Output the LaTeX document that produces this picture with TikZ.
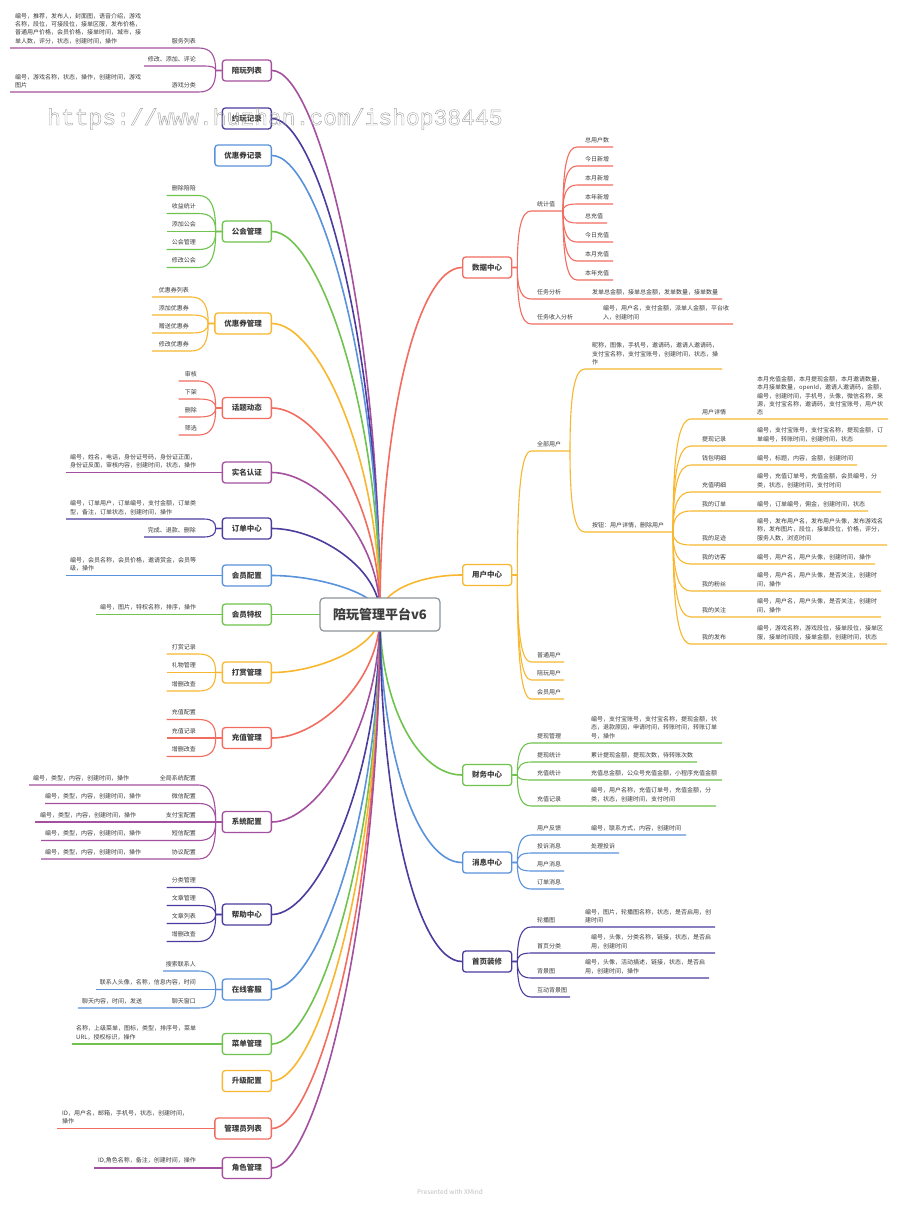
\documentclass[tikz,border=0pt]{standalone}
\usepackage{fontspec}
\setmainfont{Noto Sans CJK SC}
\newfontfamily\wmfont{Liberation Mono}
\usetikzlibrary{calc}
\definecolor{cR}{HTML}{F26D5F}
\definecolor{cY}{HTML}{F8B72E}
\definecolor{cG}{HTML}{70C34E}
\definecolor{cB}{HTML}{5A92DB}
\definecolor{cI}{HTML}{4B3C9E}
\definecolor{cP}{HTML}{A4509F}
\definecolor{txt}{HTML}{3C3C3C}
\definecolor{rootc}{HTML}{8C949B}
\definecolor{wm}{HTML}{A0A0A0}
\pgfdeclarelayer{back}
\pgfdeclarelayer{bg}
\pgfsetlayers{back,bg,main}
\begin{document}
\begin{tikzpicture}[x=1pt,y=-1pt,
  mn/.style={draw=#1, line width=1.3pt, rounded corners=3pt, fill=white, text=txt, font=\fontsize{7.5}{9}\selectfont\bfseries, minimum height=21pt, inner xsep=9.5pt, inner ysep=0pt},
  rootn/.style={draw=rootc, line width=1.2pt, rounded corners=4pt, fill=white, text=txt, font=\fontsize{13}{15}\selectfont\bfseries, minimum width=120pt, minimum height=33pt},
  tx/.style={font=\fontsize{6}{8.2}\selectfont, text=txt, inner sep=0pt, align=left},
  tl/.style={tx, anchor=south west},
  tr/.style={tx, anchor=south east, align=right},
  br/.style={line width=1.6pt, draw=#1},
  sb/.style={line width=1.1pt, draw=#1},
  elb/.style 2 args={insert path={.. controls +(0,{0.7*(#2)}) and +({-0.7*(#1)},0) .. ++(#1,#2)}}
]
\useasboundingbox (0,0) rectangle (900,1205);
\begin{pgfonlayer}{back}
\fill[white] (0,0) rectangle (900,1205);
\end{pgfonlayer}

% ---------- root and main nodes ----------
\node[rootn] (root) at (380,614.5) {陪玩管理平台v6};

\node[mn=cP, anchor=east] (n1) at (272,70.5) {陪玩列表};
\node[mn=cI, anchor=east] (n2) at (272,118.5) {约玩记录};
\node[mn=cB, anchor=east] (n3) at (272,155.5) {优惠券记录};
\node[mn=cG, anchor=east] (n4) at (272,231.5) {公会管理};
\node[mn=cY, anchor=east] (n5) at (272,323.5) {优惠券管理};
\node[mn=cR, anchor=east] (n6) at (272,408) {话题动态};
\node[mn=cP, anchor=east] (n7) at (272,472.5) {实名认证};
\node[mn=cI, anchor=east] (n8) at (272,528.5) {订单中心};
\node[mn=cB, anchor=east] (n9) at (272,575.5) {会员配置};
\node[mn=cG, anchor=east] (n10) at (272,614.5) {会员特权};
\node[mn=cY, anchor=east] (n11) at (272,672.5) {打赏管理};
\node[mn=cR, anchor=east] (n12) at (272,738) {充值管理};
\node[mn=cP, anchor=east] (n13) at (272,822) {系统配置};
\node[mn=cI, anchor=east] (n14) at (272,914.5) {帮助中心};
\node[mn=cB, anchor=east] (n15) at (272,989.5) {在线客服};
\node[mn=cG, anchor=east] (n16) at (272,1044) {菜单管理};
\node[mn=cY, anchor=east] (n17) at (272,1081) {升级配置};
\node[mn=cR, anchor=east] (n18) at (272,1128.5) {管理员列表};
\node[mn=cP, anchor=east] (n19) at (272,1168) {角色管理};

\node[mn=cR, anchor=west] (r1) at (462,267.5) {数据中心};
\node[mn=cY, anchor=west] (r2) at (462,575) {用户中心};
\node[mn=cG, anchor=west] (r3) at (462,775) {财务中心};
\node[mn=cB, anchor=west] (r4) at (462,862.5) {消息中心};
\node[mn=cI, anchor=west] (r5) at (462,961.5) {首页装修};

% ---------- connectors ----------
\begin{pgfonlayer}{bg}
\draw[br=cP] (root.center) .. controls +(0,-299) and +(45,0) .. (n1.east);
\draw[br=cI] (root.center) .. controls +(0,-273) and +(45,0) .. (n2.east);
\draw[br=cB] (root.center) .. controls +(0,-252) and +(45,0) .. (n3.east);
\draw[br=cG] (root.center) .. controls +(0,-211) and +(45,0) .. (n4.east);
\draw[br=cY] (root.center) .. controls +(0,-160) and +(45,0) .. (n5.east);
\draw[br=cR] (root.center) .. controls +(0,-114) and +(45,0) .. (n6.east);
\draw[br=cP] (root.center) .. controls +(0,-78) and +(45,0) .. (n7.east);
\draw[br=cI] (root.center) .. controls +(0,-47) and +(45,0) .. (n8.east);
\draw[br=cB] (root.center) .. controls +(0,-21) and +(45,0) .. (n9.east);
\draw[br=cG] (root.center) -- (n10.east);
\draw[br=cY] (root.center) .. controls +(0,32) and +(45,0) .. (n11.east);
\draw[br=cR] (root.center) .. controls +(0,68) and +(45,0) .. (n12.east);
\draw[br=cP] (root.center) .. controls +(0,114) and +(45,0) .. (n13.east);
\draw[br=cI] (root.center) .. controls +(0,165) and +(45,0) .. (n14.east);
\draw[br=cB] (root.center) .. controls +(0,206) and +(45,0) .. (n15.east);
\draw[br=cG] (root.center) .. controls +(0,236) and +(45,0) .. (n16.east);
\draw[br=cY] (root.center) .. controls +(0,257) and +(45,0) .. (n17.east);
\draw[br=cR] (root.center) .. controls +(0,283) and +(45,0) .. (n18.east);
\draw[br=cP] (root.center) .. controls +(0,304) and +(45,0) .. (n19.east);
\draw[br=cR] (root.center) .. controls +(0,-191) and +(-45,0) .. (r1.west);
\draw[br=cY] (root.center) .. controls +(0,-22) and +(-45,0) .. (r2.west);
\draw[br=cG] (root.center) .. controls +(0,88) and +(-45,0) .. (r3.west);
\draw[br=cB] (root.center) .. controls +(0,136) and +(-45,0) .. (r4.west);
\draw[br=cI] (root.center) .. controls +(0,191) and +(-45,0) .. (r5.west);

% left sub branches
\draw[sb=cP] (n1.west) -- ++(-6,0) [elb={-17}{-22.5}] -- (10,48);
\draw[sb=cP] (n1.west) -- ++(-6,0) [elb={-12}{-4.5}] -- (144,66);
\draw[sb=cP] (n1.west) -- ++(-6,0) [elb={-17}{21.5}] -- (10,92);
\foreach \d in {-36,-18,0,18,36} \draw[sb=cG] (n4.west) -- ++(-6,0) [elb={-17}{\d}] -- ++(-32,0);
\foreach \d in {-26.5,-8.5,9.5,27.5} \draw[sb=cY] (n5.west) -- ++(-6,0) [elb={-17}{\d}] -- ++(-39,0);
\foreach \d in {-27,-9,9,27} \draw[sb=cR] (n6.west) -- ++(-6,0) [elb={-17}{\d}] -- ++(-20,0);
\draw[sb=cP] (n7.west) -- (66,472.5);
\draw[sb=cI] (n8.west) -- ++(-6,0) [elb={-12}{-9.5}] -- (66,519);
\draw[sb=cI] (n8.west) -- ++(-6,0) [elb={-12}{8.5}] -- (144,537);
\draw[sb=cB] (n9.west) -- (66,575.5);
\draw[sb=cG] (n10.west) -- (96,614.5);
\foreach \d in {-18.5,0,18.5} \draw[sb=cY] (n11.west) -- ++(-6,0) [elb={-17}{\d}] -- ++(-32,0);
\foreach \d in {-18.5,0,18.5} \draw[sb=cR] (n12.west) -- ++(-6,0) [elb={-17}{\d}] -- ++(-32,0);
\draw[sb=cP] (n13.west) -- ++(-6,0) [elb={-17}{-37}] -- (29,785);
\draw[sb=cP] (n13.west) -- ++(-6,0) [elb={-17}{-18.5}] -- (45,803.5);
\draw[sb=cP] (n13.west) -- (35,822);
\draw[sb=cP] (n13.west) -- ++(-6,0) [elb={-17}{18.5}] -- (41,840.5);
\draw[sb=cP] (n13.west) -- ++(-6,0) [elb={-17}{37}] -- (41,859);
\foreach \d in {-27,-9,9,27} \draw[sb=cI] (n14.west) -- ++(-6,0) [elb={-17}{\d}] -- ++(-32,0);
\draw[sb=cB] (n15.west) -- ++(-6,0) [elb={-17}{-18.5}] -- (163,971);
\draw[sb=cB] (n15.west) -- (96,989.5);
\draw[sb=cB] (n15.west) -- ++(-6,0) [elb={-17}{18.5}] -- (78,1008);
\draw[sb=cG] (n16.west) -- (72,1044);
\draw[sb=cR] (n18.west) -- (57,1128.5);
\draw[sb=cP] (n19.west) -- (94,1168);

% right sub branches
\draw[sb=cR] (r1.east) -- ++(5,0) [elb={14}{-56.5}] -- (563,211) coordinate (h1);
\draw[sb=cR] (r1.east) -- ++(5,0) [elb={14}{31.5}] -- (722,299);
\draw[sb=cR] (r1.east) -- ++(5,0) [elb={14}{56.5}] -- (733,324);
\foreach \d/\e in {-64/36,-45/36,-26/36,-7/36,12/30,31/36,50/36,69/36}
  \draw[sb=cR] (h1) [elb={14}{\d}] -- ++(\e,0);

\draw[sb=cY] (r2.east) -- ++(5,0) [elb={14}{-124}] -- (570,451) coordinate (h2);
\draw[sb=cY] (r2.east) -- ++(5,0) [elb={14}{87}] -- (564,662);
\draw[sb=cY] (r2.east) -- ++(5,0) [elb={14}{105}] -- (564,680);
\draw[sb=cY] (r2.east) -- ++(5,0) [elb={14}{124}] -- (564,699);
\draw[sb=cY] (h2) [elb={15}{-82}] -- (722,369);
\draw[sb=cY] (h2) [elb={15}{81}] -- (673,532) coordinate (h3);
\foreach \d/\e in {-113/197,-86/196,-67/166,-40/190,-21/177,13/196,32/184,59/190,85/190,112/196}
  \draw[sb=cY] (h3) [elb={18}{\d}] -- ++(\e,0);

\draw[sb=cG] (r3.east) -- ++(5,0) [elb={14}{-32}] -- (722,743);
\draw[sb=cG] (r3.east) -- ++(5,0) [elb={14}{-13}] -- (697,762);
\draw[sb=cG] (r3.east) -- ++(5,0) [elb={14}{5}] -- (722,780);
\draw[sb=cG] (r3.east) -- ++(5,0) [elb={14}{31}] -- (716,806);

\draw[sb=cB] (r4.east) -- ++(5,0) [elb={14}{-27.5}] -- (686,835);
\draw[sb=cB] (r4.east) -- ++(5,0) [elb={14}{-9.5}] -- (619,853);
\draw[sb=cB] (r4.east) -- ++(5,0) [elb={14}{8.5}] -- (564,871);
\draw[sb=cB] (r4.east) -- ++(5,0) [elb={14}{26.5}] -- (564,889);

\draw[sb=cI] (r5.east) -- ++(5,0) [elb={14}{-34.5}] -- (715,927);
\draw[sb=cI] (r5.east) -- ++(5,0) [elb={14}{-8.5}] -- (715,953);
\draw[sb=cI] (r5.east) -- ++(5,0) [elb={14}{16.5}] -- (709,978);
\draw[sb=cI] (r5.east) -- ++(5,0) [elb={14}{35.5}] -- (570,997);
\end{pgfonlayer}

% ---------- left texts ----------
\node[tr] (a1) at (196,44) {服务列表};
\node[tl] (a2) at (15,44) {编号，推荐，发布人，封面图，语音介绍，游戏\\名称，段位，可接段位，接单区服，发布价格，\\普通用户价格，会员价格，接单时间，城市，接\\单人数，评分，状态，创建时间，操作};
\node[tr] (a3) at (196,62) {修改、添加、评论};
\node[tr] (a4) at (196,88) {游戏分类};
\node[tl] (a5) at (15,88) {编号，游戏名称，状态，操作，创建时间，游戏\\图片};

\node[tr] (b1) at (196,191.5) {删除陪陪};
\node[tr] (b2) at (196,209.5) {收益统计};
\node[tr] (b3) at (196,227.5) {添加公会};
\node[tr] (b4) at (196,245.5) {公会管理};
\node[tr] (b5) at (196,263.5) {修改公会};

\node[tr] (c1) at (189,293) {优惠券列表};
\node[tr] (c2) at (189,311) {添加优惠券};
\node[tr] (c3) at (189,329) {赠送优惠券};
\node[tr] (c4) at (189,347) {修改优惠券};

\node[tr] (d1) at (197,377) {审核};
\node[tr] (d2) at (197,395) {下架};
\node[tr] (d3) at (197,413) {删除};
\node[tr] (d4) at (197,431) {筛选};

\node[tl] (e1) at (70,468.5) {编号，姓名，电话，身份证号码，身份证正面，\\身份证反面，审核内容，创建时间，状态，操作};
\node[tl] (e2) at (70,515) {编号，订单用户，订单编号，支付金额，订单类\\型，备注，订单状态，创建时间，操作};
\node[tr] (e3) at (196,533) {完成、退款、删除};
\node[tl] (e4) at (70,571.5) {编号，会员名称，会员价格，邀请赏金，会员等\\级，操作};
\node[tl] (e5) at (100,610.5) {编号，图片，特权名称，排序，操作};

\node[tr] (f1) at (196,650) {打赏记录};
\node[tr] (f2) at (196,668.5) {礼物管理};
\node[tr] (f3) at (196,687) {增删改查};
\node[tr] (f4) at (196,715.5) {充值配置};
\node[tr] (f5) at (196,734) {充值记录};
\node[tr] (f6) at (196,752.5) {增删改查};

\node[tr] (g1) at (196,781) {全局系统配置};
\node[tl] (g2) at (33,781) {编号，类型，内容，创建时间，操作};
\node[tr] (g3) at (196,799.5) {微信配置};
\node[tl] (g4) at (45,799.5) {编号，类型，内容，创建时间，操作};
\node[tr] (g5) at (196,818) {支付宝配置};
\node[tl] (g6) at (40,818) {编号，类型，内容，创建时间，操作};
\node[tr] (g7) at (196,836.5) {短信配置};
\node[tl] (g8) at (45,836.5) {编号，类型，内容，创建时间，操作};
\node[tr] (g9) at (196,855) {协议配置};
\node[tl] (g10) at (45,855) {编号，类型，内容，创建时间，操作};

\node[tr] (k1) at (196,883.5) {分类管理};
\node[tr] (k2) at (196,901.5) {文章管理};
\node[tr] (k3) at (196,919.5) {文章列表};
\node[tr] (k4) at (196,937.5) {增删改查};

\node[tr] (m1) at (196,967) {搜索联系人};
\node[tr] (m2) at (196,985.5) {联系人头像，名称，信息内容，时间};
\node[tr] (m3) at (196,1004) {聊天窗口};
\node[tl] (m4) at (82,1004) {聊天内容，时间，发送};

\node[tl] (p1) at (76,1040) {名称，上级菜单，图标，类型，排序号，菜单\\URL，授权标识，操作};
\node[tl] (p2) at (62,1124.5) {ID，用户名，邮箱，手机号，状态，创建时间，\\操作};
\node[tl] (p3) at (98,1164) {ID,角色名称，备注，创建时间，操作};

% ---------- right texts ----------
\node[tl] (s1) at (537,207) {统计值};
\node[tl] (s2) at (537,295) {任务分析};
\node[tl] (s3) at (592,295) {发单总金额，接单总金额，发单数量，接单数量};
\node[tl] (s4) at (537,320) {任务收入分析};
\node[tl] (s5) at (603,320) {编号，用户名，支付金额，派单人金额，平台收\\入，创建时间};
\node[tl] (s6) at (585,143) {总用户数};
\node[tl] (s7) at (585,162) {今日新增};
\node[tl] (s8) at (585,181) {本月新增};
\node[tl] (s9) at (585,200) {本年新增};
\node[tl] (s10) at (585,219) {总充值};
\node[tl] (s11) at (585,238) {今日充值};
\node[tl] (s12) at (585,257) {本月充值};
\node[tl] (s13) at (585,276) {本年充值};

\node[tl] (u1) at (537,447) {全部用户};
\node[tl] (u2) at (592,365) {昵称，图像，手机号，邀请码，邀请人邀请码，\\支付宝名称，支付宝账号，创建时间，状态，操\\作};
\node[tl] (u3) at (592,528) {按钮：用户详情，删除用户};
\node[tl] (u4) at (537,658) {普通用户};
\node[tl] (u5) at (537,676) {陪玩用户};
\node[tl] (u6) at (537,695) {会员用户};

\node[tl] (v1) at (702,415) {用户详情};
\node[tl] (v2) at (757,415) {本月充值金额，本月提现金额，本月邀请数量，\\本月接单数量，openId，邀请人邀请码，金额，\\编号，创建时间，手机号，头像，微信名称，来\\源，支付宝名称，邀请码，支付宝账号，用户状\\态};
\node[tl] (v3) at (702,442) {提现记录};
\node[tl] (v4) at (757,442) {编号，支付宝账号，支付宝名称，提现金额，订\\单编号，转账时间，创建时间，状态};
\node[tl] (v5) at (702,461) {钱包明细};
\node[tl] (v6) at (757,461) {编号，标题，内容，金额，创建时间};
\node[tl] (v7) at (702,488) {充值明细};
\node[tl] (v8) at (757,488) {编号，充值订单号，充值金额，会员编号，分\\类，状态，创建时间，支付时间};
\node[tl] (v9) at (702,507) {我的订单};
\node[tl] (v10) at (757,507) {编号，订单编号，佣金，创建时间，状态};
\node[tl] (v11) at (702,541) {我的足迹};
\node[tl] (v12) at (757,541) {编号，发布用户名，发布用户头像，发布游戏名\\称，发布图片，段位，接单段位，价格，评分，\\服务人数，浏览时间};
\node[tl] (v13) at (702,560) {我的访客};
\node[tl] (v14) at (757,560) {编号，用户名，用户头像，创建时间，操作};
\node[tl] (v15) at (702,587) {我的粉丝};
\node[tl] (v16) at (757,587) {编号，用户名，用户头像，是否关注，创建时\\间，操作};
\node[tl] (v17) at (702,613) {我的关注};
\node[tl] (v18) at (757,613) {编号，用户名，用户头像，是否关注，创建时\\间，操作};
\node[tl] (v19) at (702,640) {我的发布};
\node[tl] (v20) at (757,640) {编号，游戏名称，游戏段位，接单段位，接单区\\服，接单时间段，接单金额，创建时间，状态};

\node[tl] (w1) at (537,739) {提现管理};
\node[tl] (w2) at (591,739) {编号，支付宝账号，支付宝名称，提现金额，状\\态，退款原因，申请时间，转账时间，转账订单\\号，操作};
\node[tl] (w3) at (537,758) {提现统计};
\node[tl] (w4) at (591,758) {累计提现金额，提现次数，待转账次数};
\node[tl] (w5) at (537,776) {充值统计};
\node[tl] (w6) at (591,776) {充值总金额，公众号充值金额，小程序充值金额};
\node[tl] (w7) at (537,802) {充值记录};
\node[tl] (w8) at (591,802) {编号，用户名称，充值订单号，充值金额，分\\类，状态，创建时间，支付时间};

\node[tl] (x1) at (537,831) {用户反馈};
\node[tl] (x2) at (591,831) {编号，联系方式，内容，创建时间};
\node[tl] (x3) at (537,849) {投诉消息};
\node[tl] (x4) at (591,849) {处理投诉};
\node[tl] (x5) at (537,867) {用户消息};
\node[tl] (x6) at (537,885) {订单消息};

\node[tl] (y1) at (537,923) {轮播图};
\node[tl] (y2) at (585,923) {编号，图片，轮播图名称，状态，是否启用，创\\建时间};
\node[tl] (y3) at (537,949) {首页分类};
\node[tl] (y4) at (591,949) {编号，头像，分类名称，链接，状态，是否启\\用，创建时间};
\node[tl] (y5) at (537,974) {背景图};
\node[tl] (y6) at (585,974) {编号，头像，活动描述，链接，状态，是否启\\用，创建时间，操作};
\node[tl] (y7) at (537,993) {互动背景图};

% ---------- watermark and footer ----------
\node[anchor=base west, inner sep=0pt, text=wm, font=\wmfont\fontsize{23}{23}\selectfont] (wmk) at (47,125)
  {\special{pdf:literal direct 1 Tr 0.4 w}https://www.huzhan.com/ishop38445\special{pdf:literal direct 0 Tr}};
\node[inner sep=0pt, text=black!25, font=\fontsize{6.5}{8}\selectfont] (ft) at (450,1192) {Presented with XMind};
\end{tikzpicture}
\end{document}
